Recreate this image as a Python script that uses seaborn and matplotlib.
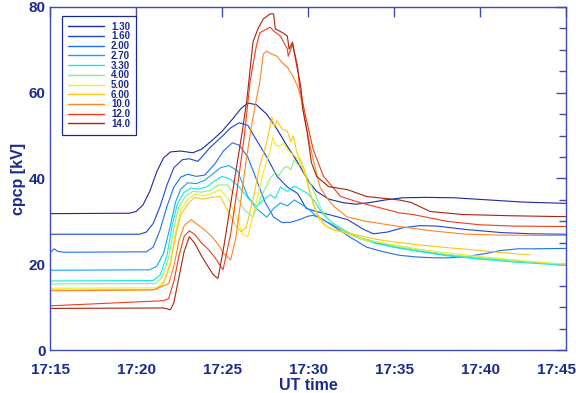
import matplotlib
matplotlib.use("Agg")
import matplotlib.pyplot as plt
import matplotlib.transforms as mtransforms
from matplotlib.lines import Line2D
from matplotlib.ticker import MultipleLocator
import pandas as pd
import seaborn as sns

# Kp-like driving levels, one curve each
levels = ["1.30", "1.60", "2.00", "2.70", "3.30", "4.00", "5.00", "6.00", "10.0", "12.0", "14.0"]
colors = ["#1c2a9a", "#1f45d8", "#1f6ff2", "#10a6f6", "#12e6f0", "#86f08a",
          "#ecec24", "#ffc414", "#ff8424", "#f23c1c", "#a8240e"]

# time in minutes after 17:15 UT, potential in kV
t_130 = [0, 4.6, 5.0, 5.4, 5.8, 6.2, 6.6, 7.0, 7.6, 8.3, 8.8, 9.4, 10.0, 10.6, 11.1, 11.5, 12.0, 12.6,
         13.2, 13.8, 14.4, 15.0, 15.5, 16.2, 17.0, 17.8, 18.6, 19.5, 20.5, 21.8, 23.5, 25.5, 27.5, 30]
v_130 = [31.8, 31.9, 32.3, 33.8, 37.0, 41.5, 44.8, 46.2, 46.4, 46.0, 46.8, 48.8, 51.0, 53.8, 56.3, 57.6,
         57.2, 55.0, 51.5, 47.5, 43.8, 39.5, 37.0, 35.2, 34.4, 34.0, 34.4, 35.0, 35.5, 35.6, 35.5, 35.0,
         34.5, 34.2]

t_160 = [0, 5.2, 5.6, 6.0, 6.4, 6.8, 7.2, 7.7, 8.1, 8.6, 9.3, 10.0, 10.5, 11.0, 11.5, 12.0, 12.6, 13.2,
         13.8, 14.4, 14.9, 15.5, 16.3, 17.3, 18.2, 18.8, 19.6, 20.5, 21.5, 22.5, 24.2, 26.2, 28.0, 30]
v_160 = [27.0, 27.0, 27.5, 29.5, 33.5, 38.5, 42.5, 44.4, 44.6, 44.0, 47.2, 49.8, 51.8, 53.0, 52.4, 49.0,
         45.0, 40.5, 38.0, 36.5, 33.0, 32.3, 31.5, 30.4, 28.2, 27.1, 27.5, 28.5, 29.0, 28.9, 28.1, 27.4,
         27.1, 27.0]

t_200 = [0, 0.25, 0.45, 0.8, 5.6, 6.0, 6.4, 6.8, 7.2, 7.6, 8.0, 8.5, 9.0, 9.6, 10.1, 10.6, 11.0, 11.5,
         12.0, 12.5, 13.0, 13.5, 14.0, 14.5, 15.0, 15.3, 15.8, 16.5, 17.5, 18.4, 19.3, 20.3, 21.3, 22.3,
         23.2, 24.2, 25.2, 26.2, 27.2, 28.2, 30]
v_200 = [22.7, 23.6, 23.0, 22.8, 22.9, 24.0, 28.0, 33.5, 38.0, 40.3, 41.0, 40.5, 40.8, 43.5, 46.5, 48.3,
         47.8, 45.0, 39.8, 34.5, 31.0, 29.7, 29.8, 30.4, 31.2, 31.4, 30.6, 28.8, 26.2, 24.0, 23.0, 22.1,
         21.7, 21.5, 21.5, 21.8, 22.4, 23.2, 23.6, 23.6, 23.7]

t_270 = [0, 5.8, 6.2, 6.6, 7.0, 7.3, 7.6, 8.0, 8.5, 9.0, 9.5, 9.9, 10.4, 10.9, 11.5, 12.0, 12.6, 13.0,
         13.4, 13.8, 14.2, 14.6, 15.0, 15.4, 15.8, 16.3, 17.0, 18.0, 19.0, 20.0, 21.5, 23.0, 25.0, 27.0,
         29.0, 30]
v_270 = [18.6, 18.7, 19.5, 22.5, 29.0, 34.5, 37.5, 39.0, 38.8, 39.6, 41.2, 42.5, 43.0, 41.8, 35.8, 33.0,
         31.0, 33.0, 34.3, 33.6, 35.0, 34.0, 33.0, 31.5, 30.5, 29.5, 28.0, 26.2, 25.0, 24.0, 23.0, 22.2,
         21.4, 20.8, 20.2, 19.9]

t_330 = [0, 6.0, 6.4, 6.8, 7.1, 7.4, 7.8, 8.2, 8.6, 9.1, 9.6, 10.0, 10.5, 11.0, 11.5, 12.0, 12.4, 12.8,
         13.1, 13.4, 13.8, 14.2, 14.6, 15.0, 15.4, 15.8, 16.3, 17.0, 18.0, 19.0, 20.0, 21.5, 23.0, 25.0,
         27.0, 29.0, 30]
v_330 = [16.1, 16.2, 17.5, 22.0, 29.0, 34.0, 36.8, 37.8, 37.5, 38.0, 39.5, 40.5, 39.8, 38.0, 35.5, 33.5,
         35.0, 36.2, 35.4, 38.0, 37.0, 38.2, 37.4, 36.4, 34.6, 32.0, 30.0, 28.2, 26.0, 24.8, 24.0, 23.0,
         22.0, 21.2, 20.5, 20.0, 19.7]

t_400 = [0, 6.1, 6.5, 6.9, 7.2, 7.5, 7.9, 8.3, 8.8, 9.3, 9.8, 10.3, 10.8, 11.3, 11.8, 12.3, 12.8, 13.1,
         13.3, 13.6, 13.8, 14.0, 14.2, 14.4, 14.6, 15.0, 15.4, 15.8, 16.3, 17.0, 18.0, 19.0, 20.0, 21.5,
         23.0, 25.0, 27.0, 29.0, 30]
v_400 = [15.4, 15.5, 16.8, 21.5, 28.5, 33.5, 36.0, 37.0, 36.8, 37.2, 38.5, 38.5, 36.0, 32.7, 31.0, 36.0,
         40.0, 41.5, 40.6, 42.5, 42.8, 42.0, 44.4, 43.2, 43.0, 40.0, 36.5, 32.5, 30.0, 28.0, 26.2, 25.2,
         24.3, 23.3, 22.3, 21.5, 20.8, 20.2, 20.0]

t_500 = [0, 6.2, 6.6, 7.0, 7.3, 7.6, 8.0, 8.4, 8.9, 9.4, 9.9, 10.4, 10.9, 11.2, 11.5, 11.9, 12.4, 12.8,
         12.95, 13.1, 13.3, 13.6, 13.8, 14.0, 14.5, 14.9, 15.3, 15.7, 16.2, 17.0, 17.8, 18.4, 19.0, 20.0,
         21.5, 23.0, 25.0, 27.0, 29.0, 30]
v_500 = [14.4, 14.5, 15.8, 20.5, 27.5, 32.5, 35.0, 36.3, 36.0, 36.5, 37.4, 35.0, 30.5, 27.0, 26.4, 33.0,
         41.4, 46.5, 49.6, 47.8, 47.5, 48.2, 46.8, 46.0, 44.4, 40.0, 34.0, 30.0, 28.5, 27.5, 26.3, 25.5,
         25.2, 24.5, 23.5, 22.7, 21.8, 21.0, 20.3, 20.0]

t_600 = [0, 6.2, 6.6, 7.0, 7.3, 7.6, 8.0, 8.4, 8.9, 9.4, 9.9, 10.4, 10.8, 11.1, 11.4, 11.8, 12.2, 12.6,
         12.9, 13.05, 13.2, 13.5, 13.8, 14.0, 14.15, 14.35, 14.6, 14.8, 15.1, 15.5, 16.0, 16.5, 17.3, 18.2,
         19.0, 20.0, 21.5, 23.0, 24.5, 26.0, 27.9]
v_600 = [14.0, 14.1, 15.5, 20.0, 26.5, 31.5, 34.0, 35.6, 35.2, 35.6, 35.8, 32.0, 29.0, 27.6, 28.5, 35.0,
         43.0, 48.4, 54.3, 52.0, 53.5, 51.5, 51.0, 48.5, 50.0, 46.0, 44.0, 42.0, 37.0, 32.0, 29.0, 28.0,
         27.3, 26.5, 25.8, 25.2, 24.5, 23.9, 23.4, 22.8, 22.2]

t_1000 = [0, 6.0, 6.5, 6.9, 7.2, 7.5, 7.8, 8.2, 8.6, 9.0, 9.4, 9.8, 10.1, 10.5, 10.8, 11.1, 11.4, 11.7,
          12.0, 12.2, 12.4, 12.6, 12.9, 13.2, 13.5, 13.8, 14.1, 14.4, 14.6, 14.9, 15.3, 15.7, 16.1, 16.5,
          17.3, 18.4, 20.3, 22.2, 24.2, 26.2, 30]
v_1000 = [13.8, 14.0, 14.8, 15.5, 19.5, 25.5, 29.0, 30.4, 29.2, 28.0, 26.5, 24.5, 22.5, 21.0, 26.0, 35.0,
          44.0, 52.0, 58.5, 62.5, 69.0, 69.7, 69.0, 68.5, 67.0, 66.0, 64.0, 61.5, 58.5, 52.0, 44.4, 38.0,
          35.5, 33.5, 31.0, 30.0, 28.8, 27.8, 27.0, 26.8, 26.7]

t_1200 = [0, 6.6, 6.9, 7.2, 7.5, 7.8, 8.1, 8.4, 8.8, 9.2, 9.6, 10.06, 10.5, 10.9, 11.3, 11.63, 12.0, 12.2,
          12.8, 13.0, 13.4, 13.8, 13.85, 14.1, 14.4, 14.5, 14.9, 15.3, 15.9, 16.9, 18.0, 20.3, 21.1, 23.1,
          25.0, 27.0, 30]
v_1200 = [10.3, 11.5, 12.0, 16.0, 22.0, 26.5, 27.8, 27.0, 25.0, 23.5, 21.5, 18.7, 27.0, 38.0, 50.0, 62.5,
          71.0, 74.0, 75.3, 74.4, 73.2, 70.2, 68.5, 71.3, 66.2, 61.5, 53.8, 46.8, 40.5, 35.8, 34.4, 32.0,
          31.6, 30.0, 29.2, 28.9, 28.8]

t_1400 = [0, 6.6, 7.0, 7.2, 7.5, 7.8, 8.1, 8.4, 8.8, 9.2, 9.5, 9.77, 10.1, 10.5, 10.9, 11.2, 11.45, 11.8,
          12.1, 12.4, 12.8, 13.0, 13.1, 13.3, 13.6, 13.8, 13.9, 14.1, 14.2, 14.35, 14.5, 14.6, 14.7, 14.95,
          15.2, 15.5, 16.2, 17.3, 18.4, 20.3, 21.0, 22.1, 24.0, 26.9, 30]
v_1400 = [9.7, 9.8, 9.4, 11.0, 17.0, 23.0, 26.4, 25.0, 22.0, 19.4, 17.5, 16.7, 24.0, 34.0, 44.0, 51.5,
          58.5, 71.8, 75.0, 77.2, 78.4, 78.4, 74.9, 74.5, 73.8, 73.2, 70.2, 71.8, 69.5, 66.2, 63.2, 60.8,
          56.1, 50.8, 43.7, 40.5, 38.1, 37.4, 35.8, 35.0, 34.4, 32.3, 31.6, 31.3, 31.1]

times = [t_130, t_160, t_200, t_270, t_330, t_400, t_500, t_600, t_1000, t_1200, t_1400]
values = [v_130, v_160, v_200, v_270, v_330, v_400, v_500, v_600, v_1000, v_1200, v_1400]

tick_labels = ["17:15", "17:20", "17:25", "17:30", "17:35", "17:40", "17:45"]

frames = []
for lev, tt, vv in zip(levels, times, values):
    frames.append(pd.DataFrame({"minute": tt, "cpcp": vv, "level": lev}))
df = pd.concat(frames, ignore_index=True)

sns.set_style("white")
navy = "#1b2a8f"
axis_col = "#3c4cb4"
plt.rcParams["font.family"] = ["Liberation Sans", "DejaVu Sans"]
plt.rcParams["font.weight"] = "bold"

fig = plt.figure(figsize=(5.76, 3.93), dpi=100)
ax = fig.add_axes([50 / 576, 1 - 350 / 393, 516 / 576, 343 / 393])

sns.lineplot(data=df, x="minute", y="cpcp", hue="level", hue_order=levels, palette=colors,
             sort=False, estimator=None, legend=False, linewidth=0.8, ax=ax)

ax.set_xlim(0, 30)
ax.set_ylim(0, 80)
ax.set_xticks(range(0, 31, 5))
ax.set_xticklabels(tick_labels)
ax.yaxis.set_major_locator(MultipleLocator(20))
ax.yaxis.set_minor_locator(MultipleLocator(5))

for sp in ax.spines.values():
    sp.set_color(axis_col)
    sp.set_linewidth(1.0)

ax.tick_params(axis="both", which="both", direction="in", colors=axis_col, labelcolor=navy,
               top=True, right=True, labelsize=11, width=1.0)
ax.tick_params(axis="x", which="major", length=7, pad=9)
ax.tick_params(axis="y", which="major", length=7, pad=3)
ax.tick_params(axis="y", which="minor", length=5)
for lab in ax.get_xticklabels() + ax.get_yticklabels():
    lab.set_fontweight("bold")

ax.set_xlabel("UT time", color=navy, fontsize=11.5, fontweight="bold", labelpad=1)
ax.set_ylabel("cpcp [kV]", color=navy, fontsize=11.5, fontweight="bold", labelpad=2)

last = ax.get_xticklabels()[-1]
last.set_transform(last.get_transform() + mtransforms.ScaledTranslation(-9 / 100, 0, fig.dpi_scale_trans))

handles = [Line2D([], [], color=c, linewidth=1.0) for c in colors]
leg = ax.legend(handles, levels, loc="upper left", bbox_to_anchor=(0.023, 0.974), borderaxespad=0,
                fontsize=7, handlelength=3.7, handletextpad=0.75, labelspacing=-0.03,
                borderpad=0.6, frameon=True, fancybox=False, framealpha=1)
leg.get_frame().set_edgecolor(navy)
leg.get_frame().set_linewidth(0.9)
for txt in leg.get_texts():
    txt.set_color(navy)
    txt.set_fontweight("bold")

fig.savefig("out.png", dpi=100, facecolor="white")
